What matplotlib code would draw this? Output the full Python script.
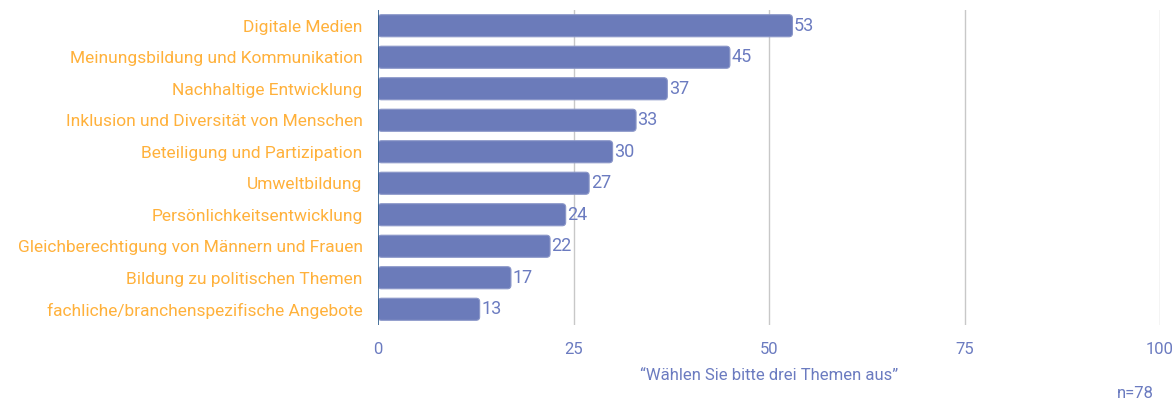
import matplotlib.pyplot as plt
from matplotlib.patches import FancyBboxPatch

plt.rcParams['font.family'] = ['Roboto', 'DejaVu Sans']

# data
categories = ['Digitale Medien', 'Meinungsbildung und Kommunikation', 'Nachhaltige Entwicklung',
              'Inklusion und Diversität von Menschen', 'Beteiligung und Partizipation',
              'Umweltbildung', 'Persönlichkeitsentwicklung',
              'Gleichberechtigung von Männern und Frauen', 'Bildung zu politischen Themen',
              'fachliche/branchenspezifische Angebote']
values = [53, 45, 37, 33, 30, 27, 24, 22, 17, 13]
xticks = [0, 25, 50, 75, 100]

bar_col = '#6b7bba'
txt_col = '#6b7bc0'
lab_col = '#ffb13b'

fig = plt.figure(figsize=(11.76, 4.03), dpi=100)
ax = fig.add_axes([378 / 1176, 1 - 325 / 403, 782 / 1176, 315 / 403])

ax.set_xlim(0, 100)
ax.set_ylim(len(categories) - 0.5, -0.5)

# corner rounding: y-units per x-unit in pixels
asp = (782 / 100) / (315 / 10)
h = 0.7
for i, v in enumerate(values):
    p = FancyBboxPatch((0, i - h / 2), v, h,
                       boxstyle='round,pad=0,rounding_size=0.45',
                       mutation_aspect=asp,
                       facecolor=bar_col, edgecolor='#8a96c8', linewidth=0.8, zorder=3)
    ax.add_patch(p)
    ax.text(v + 0.2, i, str(v), va='center', ha='left', color=txt_col, fontsize=13, zorder=4)

ax.set_yticks(range(len(categories)))
ax.set_yticklabels(categories, color=lab_col, fontsize=12.5)
ax.set_xticks(xticks)
ax.set_xticklabels([str(t) for t in xticks], color=txt_col, fontsize=12)
ax.tick_params(axis='both', length=0)
ax.tick_params(axis='y', pad=11)
ax.tick_params(axis='x', pad=12)

for t in xticks[1:]:
    ax.axvline(t, color='#c8c8c8', linewidth=1, zorder=1)
ax.axvline(0, color='#2b5a8a', linewidth=1.2, zorder=5)

for s in ax.spines.values():
    s.set_visible(False)

ax.set_xlabel('“Wählen Sie bitte drei Themen aus”', color=txt_col, fontsize=12, labelpad=8)
fig.text(1135 / 1176, 1 - 394 / 403, 'n=78', ha='center', va='center', color=txt_col, fontsize=12)

fig.savefig('out.png', dpi=100)
